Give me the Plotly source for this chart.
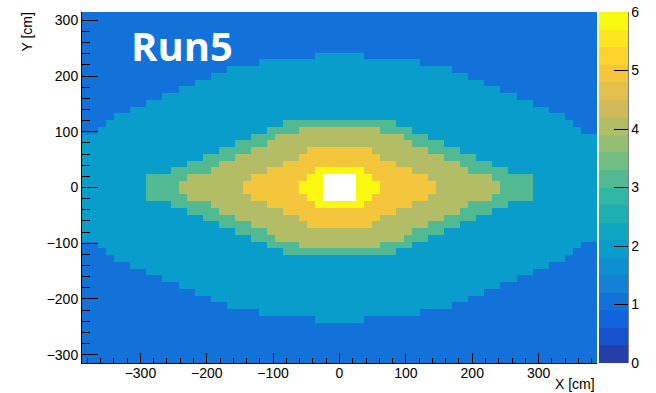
import numpy as np
import plotly.graph_objects as go

# ---- histogram binning (cm) ----
x_range = (-388.0, 388.0)
y_range = (-315.0, 315.0)
n_x_bins = 64
n_y_bins = 52

# ---- bin contents ----
# The map is mirror-symmetric about x = 0 and y = 0.  For every row, counted
# outward from y = 0, each list gives how many bins (counted outward from
# x = 0) reach at least that content level.  All other bins hold base_level.
base_level = 1
level_2_halfwidth = [32, 32, 32, 32, 32, 32, 32, 32, 30, 29, 28, 26, 24, 22, 20, 18, 16, 14, 10, 3]
level_3_halfwidth = [24, 24, 21, 19, 17, 15, 13, 11, 9, 7]
level_4_halfwidth = [20, 19, 16, 15, 13, 11, 9, 8, 5]
level_5_halfwidth = [12, 11, 9, 7, 5, 4]
level_6_halfwidth = [5, 4, 3]
level_7_halfwidth = [2, 2]

z_min, z_max, n_contours = 0.0, 6.0, 20
colorbar_ticks = [0, 1, 2, 3, 4, 5, 6]
x_ticks = [-300, -200, -100, 0, 100, 200, 300]
y_ticks = [-300, -200, -100, 0, 100, 200, 300]
label_text = "Run5"

# ---- build the 2D grid ----
halfwidths = {
    2: level_2_halfwidth, 3: level_3_halfwidth, 4: level_4_halfwidth,
    5: level_5_halfwidth, 6: level_6_halfwidth, 7: level_7_halfwidth,
}
x_w = (x_range[1] - x_range[0]) / n_x_bins
y_w = (y_range[1] - y_range[0]) / n_y_bins
x_centers = x_range[0] + x_w * (np.arange(n_x_bins) + 0.5)
y_centers = y_range[0] + y_w * (np.arange(n_y_bins) + 0.5)

counts = np.full((n_y_bins, n_x_bins), base_level, dtype=float)
for j in range(n_y_bins):
    m = j - n_y_bins // 2
    row = m if m >= 0 else -m - 1
    for i in range(n_x_bins):
        k = i - n_x_bins // 2
        col = k if k >= 0 else -k - 1
        for lvl, hw in halfwidths.items():
            if row < len(hw) and col < hw[row]:
                counts[j, i] = max(counts[j, i], lvl)

# bins above the top of the colour range stay unpainted
z = np.where(counts > z_max, np.nan, counts)

# ---- ROOT "kBird" palette, 20 contour bands ----
stops = [0.0000, 0.1250, 0.2500, 0.3750, 0.5000, 0.6250, 0.7500, 0.8750, 1.0000]
red = [0.2082, 0.0592, 0.0780, 0.0232, 0.1802, 0.5301, 0.8186, 0.9956, 0.9764]
green = [0.1664, 0.3599, 0.5041, 0.6419, 0.7178, 0.7492, 0.7328, 0.7862, 0.9832]
blue = [0.5293, 0.8684, 0.8385, 0.7914, 0.6425, 0.4662, 0.3499, 0.1968, 0.0539]
n_pal = 255
table = []
fl = [int(np.floor(n_pal * s)) for s in stops]
for g in range(1, len(stops)):
    n = fl[g] - fl[g - 1]
    for c in range(n):
        table.append((
            red[g - 1] + c * (red[g] - red[g - 1]) / n,
            green[g - 1] + c * (green[g] - green[g - 1]) / n,
            blue[g - 1] + c * (blue[g] - blue[g - 1]) / n,
        ))
band_colors = []
for lev in range(n_contours):
    idx = min(int((lev + 0.99) * n_pal / n_contours), len(table) - 1)
    r, gg, b = table[idx]
    band_colors.append(f"rgb({round(r*255)},{round(gg*255)},{round(b*255)})")

colorscale = []
for lev, col in enumerate(band_colors):
    colorscale.append([lev / n_contours, col])
    colorscale.append([(lev + 1) / n_contours, col])

# ---- figure geometry (pixels) ----
W, H = 656, 393
L, R, T, B = 82, 59, 12, 30
pw, ph = W - L - R, H - T - B


def px_x(p):
    return (p - L) / pw


def px_y(p):
    return (H - B - p) / ph


font_family = "Liberation Sans, Arial, Helvetica, sans-serif"

fig = go.Figure()
fig.add_trace(go.Heatmap(
    x=x_centers, y=y_centers, z=z,
    zmin=z_min, zmax=z_max,
    colorscale=colorscale,
    hoverongaps=False,
    colorbar=dict(
        x=px_x(599), xanchor="left", xpad=0,
        y=0.5, yanchor="middle", ypad=0,
        len=1.0, lenmode="fraction",
        thickness=29, thicknessmode="pixels",
        outlinewidth=0,
        tickmode="array", tickvals=colorbar_ticks,
        ticks="inside", ticklen=14, tickwidth=1, tickcolor="black",
        tickfont=dict(family=font_family, size=14, color="black"),
    ),
))

axis_common = dict(
    showgrid=False, zeroline=False,
    showline=True, linecolor="black", linewidth=1,
    ticks="inside", tickcolor="black", tickwidth=1,
    tickfont=dict(family=font_family, size=14, color="black"),
    mirror=False,
)
fig.update_xaxes(
    **axis_common, range=list(x_range), tickmode="array", tickvals=x_ticks,
    ticklen=10.5, ticklabelstandoff=-3,
    minor=dict(ticks="inside", ticklen=5.5, dtick=20, tick0=0,
               tickcolor="black", tickwidth=1, showgrid=False),
)
fig.update_yaxes(
    **axis_common, range=list(y_range), tickmode="array", tickvals=y_ticks,
    ticklen=15.5,
    minor=dict(ticks="inside", ticklen=7.7, dtick=20, tick0=0,
               tickcolor="black", tickwidth=1, showgrid=False),
)

annotations = [
    dict(text="X [cm]", xref="paper", yref="paper", x=px_x(597), y=px_y(374),
         xanchor="right", yanchor="top", showarrow=False,
         font=dict(family=font_family, size=14, color="black")),
    dict(text="Y [cm]", xref="paper", yref="paper", x=px_x(27), y=px_y(11),
         xanchor="center", yanchor="top", textangle=-90, showarrow=False,
         font=dict(family=font_family, size=14, color="black")),
    dict(text="<b>" + label_text + "</b>", xref="paper", yref="paper",
         x=px_x(129), y=px_y(45), xanchor="left", yanchor="middle",
         showarrow=False,
         font=dict(family="Open Sans, sans-serif", size=40, color="white")),
]

# thin line along the right side of the colour bar
shapes = [dict(type="line", xref="paper", yref="paper",
               x0=px_x(628), x1=px_x(628), y0=0, y1=1,
               line=dict(color="black", width=1))]

fig.update_layout(
    width=W, height=H,
    margin=dict(l=L, r=R, t=T, b=B, pad=0, autoexpand=False),
    paper_bgcolor="white", plot_bgcolor="white",
    annotations=annotations, shapes=shapes,
    showlegend=False,
)

fig.write_html("out.html")
